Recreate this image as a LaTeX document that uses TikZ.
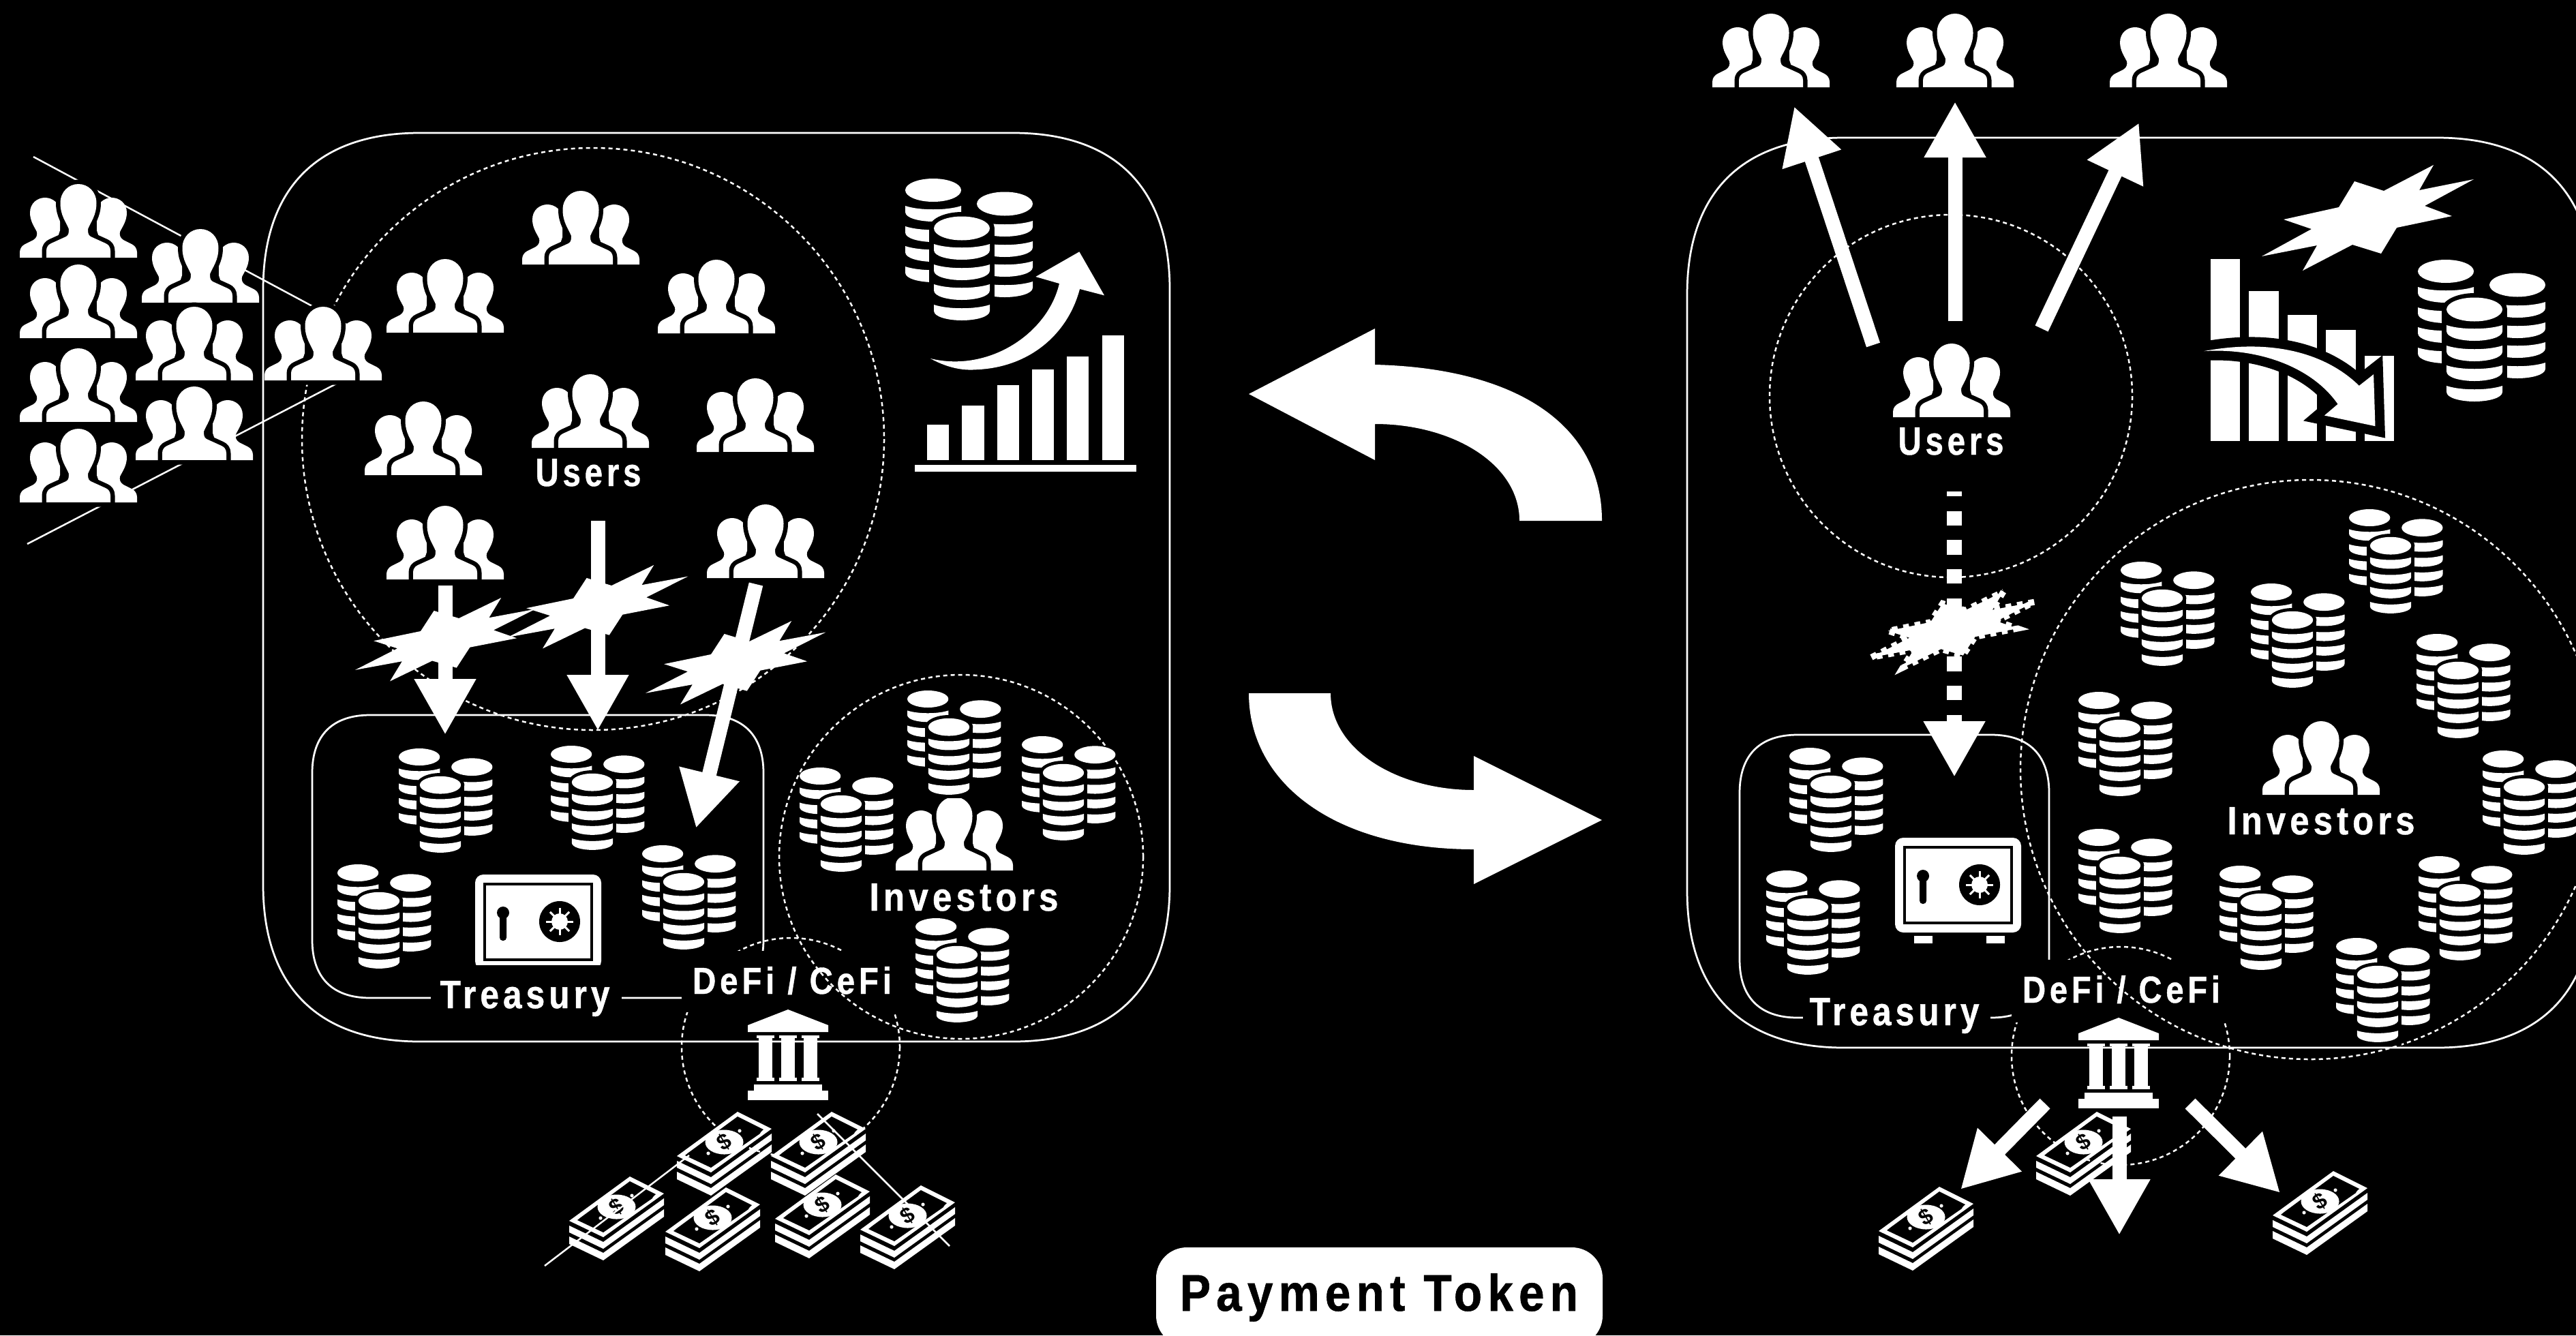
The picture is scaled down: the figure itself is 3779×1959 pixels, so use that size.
\documentclass[tikz,border=0pt]{standalone}
\usepackage{fontspec}
\usepackage{graphicx}
\usetikzlibrary{arrows.meta}
\newfontfamily\labfont[FakeStretch=0.74,LetterSpace=9,FakeBold=0.7]{Liberation Sans Bold}
\newfontfamily\dollarfont{Liberation Sans Bold}
\newcommand{\fitlab}[3]{\resizebox{#1pt}{#2pt}{\labfont #3}}
\newcommand{\sqframe}[5]{%
 \pgfmathsetmacro\fxa{#1+#5}\pgfmathsetmacro\fxb{#3-#5}%
 \pgfmathsetmacro\fya{#2+#5}\pgfmathsetmacro\fyb{#4-#5}%
 \pgfmathsetmacro\fxc{#1+0.35*#5}\pgfmathsetmacro\fxd{#3-0.35*#5}%
 \pgfmathsetmacro\fyc{#2+0.35*#5}\pgfmathsetmacro\fyd{#4-0.35*#5}%
 \draw[frameline] (\fxa,#2) -- (\fxb,#2) .. controls (\fxd,#2) and (#3,\fyc) .. (#3,\fya)
   -- (#3,\fyb) .. controls (#3,\fyd) and (\fxd,#4) .. (\fxb,#4)
   -- (\fxa,#4) .. controls (\fxc,#4) and (#1,\fyd) .. (#1,\fyb)
   -- (#1,\fya) .. controls (#1,\fyc) and (\fxc,#2) .. (\fxa,#2) -- cycle;}
\newcommand{\coinband}[2]{\fill[white,shift={(#1,#2)}] (-41,2) .. controls (-20,9) and (20,9) .. (41,2)
   -- (41,11) .. controls (41,20) and (20,25) .. (0,25) .. controls (-20,25) and (-41,20) .. (-41,11) -- cycle;}
\newcommand{\burstpath}{(252,0) -- (231,37) -- (311,21) -- (239,60) -- (279,75) -- (198,92) -- (175,130) -- (133,117) -- (60,155) -- (81,118) -- (0,134) -- (73,94) -- (32,80) -- (113,62) -- (136,24) -- (179,38) -- cycle}
\newcommand{\sidepath}{(-86,0) -- (-86,-8) .. controls (-86,-14) and (-82,-18) .. (-78,-20) -- (-66,-26) .. controls (-61,-29) and (-60,-34) .. (-61,-38) .. controls (-65,-46) and (-71,-54) .. (-71,-66) .. controls (-71,-80) and (-60,-88) .. (-49,-88) .. controls (-38,-88) and (-27,-80) .. (-27,-66) -- (-27,-40) -- (-40,0) -- cycle}
\newcommand{\centerpath}{(-47,0) -- (-47,-10) .. controls (-47,-16) and (-44,-19) .. (-40,-21) -- (-18,-31) .. controls (-14,-33) and (-14,-38) .. (-14,-42) .. controls (-18,-52) and (-26.5,-62) .. (-26.5,-80) .. controls (-26.5,-97) and (-14,-108) .. (0,-108) .. controls (14,-108) and (26.5,-97) .. (26.5,-80) .. controls (26.5,-62) and (18,-52) .. (14,-42) .. controls (14,-38) and (14,-33) .. (18,-31) -- (40,-21) .. controls (44,-19) and (47,-16) .. (47,-10) -- (47,0) -- cycle}
\newcommand{\downarrowpath}{(207,945) .. controls (450,890) and (650,950) .. (775,1097) -- (828,1047) -- (834,1275) -- (648,1228) -- (697,1178) .. controls (600,1010) and (400,930) .. (207,945) -- cycle}
\tikzset{
 x=0.2pt,y=-0.2pt,
 frameline/.style={white,line width=0.55pt},
 dotline/.style={white,line width=0.5pt,dash pattern=on 1.2pt off 1pt},
 thinline/.style={white,line width=0.5pt},
 fatarrow/.style={white,line width=4.2pt,-{Triangle[length=16.4pt,width=17pt]}},
 dasharrow/.style={fatarrow,line width=4.4pt,dash pattern=on 4.27pt off 4.27pt,dash phase=2.8pt},
 lbl/.style={white,inner sep=0pt,anchor=base},
 person/.pic={
  \fill[white] \sidepath;
  \fill[white,xscale=-1] \sidepath;
  \draw[black,line width=2.6pt,line join=round] \centerpath;
  \fill[white] \centerpath;
  \fill[black] (-47,0) rectangle (47,3);
 },
 coins/.pic={
  \fill[white] (41,17) ellipse [x radius=41,y radius=17];
  \foreach \b in {38,68,97,127} {\coinband{41}{\b}}
  \fill[white] (146,37) ellipse [x radius=41,y radius=17.5];
  \foreach \b in {60,90,119,149} {\coinband{146}{\b}}
  \fill[black] (83,73) ellipse [x radius=48,y radius=24];
  \fill[black] (35,73) rectangle (131,215);
  \fill[white] (83,73) ellipse [x radius=41,y radius=17.5];
  \foreach \b in {94,124,153,183} {\coinband{83}{\b}}
 },
 burst/.pic={\fill[white] \burstpath;},
 jaggedburst/.pic={\fill[white] \burstpath; \draw[white,line width=1.8pt,dash pattern=on 1.7pt off 1.7pt] \burstpath;},
 bankicon/.pic={
  \fill[white] (0,0) -- (-59,23) -- (-59,33) -- (59,33) -- (59,23) -- cycle;
  \foreach \c in {-33,0,33} {
   \fill[white] (\c-13,38) rectangle (\c+13,42);
   \fill[white] (\c-10,42) rectangle (\c+10,100);
   \fill[white] (\c-13,100) rectangle (\c+13,105);
  }
  \fill[white] (-50,110) rectangle (50,119);
  \fill[white] (-59,119) rectangle (59,133);
 },
 money/.pic={
  \fill[white] (0,72) -- (0,82) -- (50,106) -- (139,42) -- (139,32) -- (50,96) -- cycle;
  \fill[white] (0,88) -- (0,99) -- (50,123) -- (139,59) -- (139,48) -- (50,112) -- cycle;
  \fill[white] (89,0) -- (139,25) -- (50,89) -- (0,65) -- cycle;
  \fill[black] (89,7) -- (127,26) .. controls (122,30) and (122,32) .. (122,32) -- (50,82) -- (12,64) -- (17,60) -- cycle;
  \fill[white] (69.5,44.5) ellipse [x radius=28,y radius=18];
  \fill[white] (92,28) circle [radius=2.6] (46,61) circle [radius=2.6];
  \node[black,inner sep=0pt,rotate=32,font=\dollarfont\fontsize{6.5}{7}\selectfont] (-d) at (69.5,44.5) {\$};
 },
 safeicon/.pic={
  \fill[white,rounded corners=2.4pt] (0,0) rectangle (185,139);
  \draw[black,line width=0.7pt] (14,14) rectangle (171,125);
  \fill[black] (41,56) circle [radius=9];
  \fill[black,rounded corners=0.9pt] (36,56) rectangle (46,97);
  \fill[black] (124,69) ellipse [x radius=30,y radius=30];
  \fill[white] (124,69) circle [radius=12];
  \foreach \a in {0,45,...,315} {\draw[white,line width=0.6pt] (124,69) -- ++(\a:20);}
 },
 upchart/.pic={
  \foreach \xl/\tp in {330/1178,484/1095,638/1005,792/935,945/878,1100/785} {\fill[white] (\xl/3,\tp/3) rectangle (\xl/3+32.3,1335/3);}
  \fill[white] (276/3,1356/3) rectangle (1251/3,1386/3);
  \fill[white] (1000/3,418/3) -- (808/3,528/3) -- (912/3,558/3) .. controls (860/3,780/3) and (600/3,950/3) .. (345/3,888/3) .. controls (430/3,935/3) and (500/3,940/3) .. (540/3,937/3) .. controls (780/3,930/3) and (950/3,780/3) .. (1002/3,582/3) -- (1110/3,610/3) -- cycle;
 },
}
\begin{document}
\begin{tikzpicture}
\useasboundingbox (0,0) rectangle (3779,1959);
\clip (0,0) rectangle (3779,1959);
\fill[black] (0,0) rectangle (3779,1959);
%--- cross-out lines of the outside crowd
\coordinate (crossA) at (49,230); \coordinate (crossB) at (512,478);
\coordinate (crossC) at (40,798); \coordinate (crossD) at (528,545);
\draw[thinline] (crossA) -- (crossB);
\draw[thinline] (crossC) -- (crossD);
%--- left panel frames and circles
\draw[dotline] (870,644) circle [radius=427];
\sqframe{458}{1049}{1120}{1464}{85}
\draw[dotline] (1160,1536) circle [radius=160];
\fill[black] (1000,1395) rectangle (1320,1485);
\fill[black] (632,1416) rectangle (912,1500);
\sqframe{386}{195}{1716}{1528}{230}
\draw[dotline] (1410,1257) circle [radius=267];
%--- right panel frames and circles
\draw[dotline] (2862,581) circle [radius=266];
\sqframe{2552}{1078}{3006}{1493}{85}
\draw[dotline] (3111,1549) circle [radius=160];
\fill[black] (2951,1408) rectangle (3270,1500);
\fill[black] (2645,1450) rectangle (2920,1515);
\sqframe{2475}{202}{3805}{1537}{230}
\draw[dotline] (3389,1129) circle [radius=425];
%--- people
\foreach \n/\px/\py in {a/115/378,b/115/496,c/115/619,d/115/737,e/294/444,f/285/558,g/285/675,h/474/558,
  i/653/488,j/621/697,k/852/388,l/866/657,m/653/850,n/1051/489,o/1108/663,p/1123/848,q/1400/1277,
  r/2598/128,s/2868/128,t/3181/128,u/2863/612,v/3405/1166}
  {\pic (pp\n) at (\px,\py) {person};}
%--- coins, large
\pic (cbig1) at (1328,262) {coins};
\pic (cbig2) at (3547,381) {coins};
%--- coins, small
\foreach \n/\px/\py in {a/585/1098,b/808/1094,c/495/1268,d/942/1240,e/1173/1126,f/1331/1013,g/1343/1347,h/1499/1080,
  i/2625/1097,j/2591/1277,k/3111/824,l/3302/856,m/3446/747,n/3545/930,o/3049/1015,p/3642/1101,q/3049/1216,r/3256/1270,s/3548/1256,t/3427/1376}
  {\pic[scale=0.735] (cs\n) at (\px,\py) {coins};}
%--- safes
\pic (safeL) at (697,1283) {safeicon};
\fill[black] (632,1416) rectangle (912,1440);
\pic (safeR) at (2780,1229) {safeicon};
\fill[white] (2808,1373) rectangle (2835,1384);
\fill[white] (2914,1373) rectangle (2941,1384);
%--- banks
\pic (bankL) at (1156,1481) {bankicon};
\pic (bankR) at (3108,1493) {bankicon};
%--- money
\foreach \n/\px/\py in {a/993/1631,b/1131/1631,c/835/1726,d/976/1742,e/1137/1723,f/1262/1739,g/2987/1631,h/2756/1741,i/3334/1718}
  {\pic (mm\n) at (\px,\py) {money};}
\coordinate (mlA) at (799,1857); \coordinate (mlB) at (1011,1695);
\coordinate (mlC) at (1199,1634); \coordinate (mlD) at (1393,1828);
\draw[thinline] (mlA) -- (mlB);
\draw[thinline] (mlC) -- (mlD);
%--- charts
\pic (chartUp) at (1250,230) {upchart};
\begin{scope}[shift={(3150,200)},x=0.0802pt,y=-0.0667pt]
 \foreach \xl/\xr/\tp in {232/340/540,372/481/680,514/621/785,654/762/852,795/902/966} {\fill[white] (\xl,\tp) rectangle (\xr,1340);}
 \draw[black,line width=5.6pt,miter limit=10] \downarrowpath;
 \fill[white] \downarrowpath;
\end{scope}
\pic (burstTop) at (3318,242) {burst};
%--- fat arrows, left
\coordinate (al1) at (653,859); \coordinate (al1e) at (653,1078);
\coordinate (al2) at (877,764); \coordinate (al2e) at (877,1072);
\coordinate (al3) at (1109,857); \coordinate (al3e) at (1021,1215);
\draw[fatarrow] (al1) -- (al1e);
\draw[fatarrow] (al2) -- (al2e);
\draw[fatarrow] (al3) -- (al3e);
\pic[xscale=0.85,yscale=0.79] (bu1) at (521,877) {burst};
\pic[xscale=0.85,yscale=0.79] (bu2) at (745,829) {burst};
\pic[xscale=0.85,yscale=0.79] (bu3) at (947,911) {burst};
%--- fat arrows, right
\coordinate (ar1) at (2748,506); \coordinate (ar1e) at (2632,156);
\coordinate (ar2) at (2868,471); \coordinate (ar2e) at (2868,149);
\coordinate (ar3) at (2995,482); \coordinate (ar3e) at (3138,180);
\draw[fatarrow] (ar1) -- (ar1e);
\draw[fatarrow] (ar2) -- (ar2e);
\draw[fatarrow] (ar3) -- (ar3e);
\coordinate (ad) at (2867,721); \coordinate (ade) at (2867,1140);
\draw[dasharrow] (ad) -- (ade);
\pic[xscale=0.77,yscale=0.72] (bu4) at (2745,868) {jaggedburst};
\coordinate (ab1) at (3000,1619); \coordinate (ab1e) at (2876,1745);
\coordinate (ab2) at (3109,1638); \coordinate (ab2e) at (3109,1812);
\coordinate (ab3) at (3213,1619); \coordinate (ab3e) at (3345,1750);
\draw[fatarrow] (ab1) -- (ab1e);
\draw[fatarrow] (ab2) -- (ab2e);
\draw[fatarrow] (ab3) -- (ab3e);
%--- big curved arrows
\fill[white] (1832,578) -- (2017,482) -- (2017,535) .. controls (2220,540) and (2350,620) .. (2350,764) -- (2229,764) .. controls (2229,680) and (2130,622) .. (2017,622) -- (2017,675) -- cycle;
\fill[white] (2350,1203) -- (2162,1109) -- (2162,1159) .. controls (2050,1159) and (1952,1100) .. (1952,1017) -- (1832,1017) .. controls (1832,1150) and (1960,1246) .. (2162,1246) -- (2162,1297) -- cycle;
%--- labels
\node[lbl] (usersL) at (863,713) {\fitlab{31}{8}{Users}};
\node[lbl] (usersR) at (2862,667) {\fitlab{31}{8}{Users}};
\node[lbl] (invL) at (1414,1336) {\fitlab{55.4}{8}{Investors}};
\node[lbl] (invR) at (3405,1224) {\fitlab{55}{8}{Investors}};
\node[lbl] (treaL) at (770,1479) {\fitlab{49.8}{8}{Treasury}};
\node[lbl] (treaR) at (2779,1504) {\fitlab{49.8}{8}{Treasury}};
\node[lbl] (defiL) at (1162,1458) {\fitlab{58.4}{8}{DeFi / CeFi}};
\node[lbl] (defiR) at (3112,1471) {\fitlab{58}{8}{DeFi / CeFi}};
%--- payment token badge
\fill[white,rounded corners=9pt] (1696,1830) rectangle (2351,1975);
\node[lbl,black] (pay) at (2023,1923) {\fitlab{116.8}{11}{Payment Token}};
\end{tikzpicture}
\end{document}
